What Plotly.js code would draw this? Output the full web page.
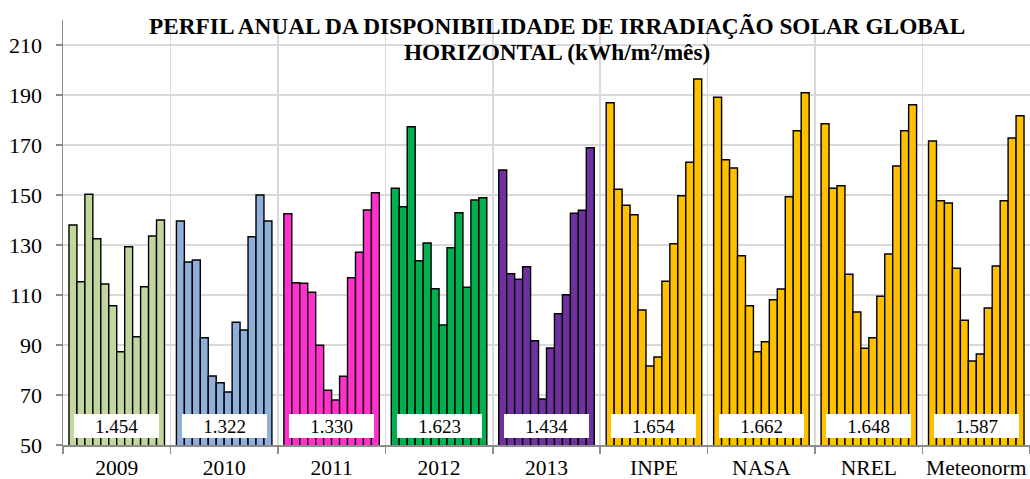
<!DOCTYPE html>
<html>
<head>
<meta charset="utf-8">
<script src="https://cdn.plot.ly/plotly-3.0.1.min.js"></script>
<style>html,body{margin:0;padding:0;background:#fff;}#chart{width:1030px;height:479px;}</style>
</head>
<body>
<div id="chart"></div>
<script>
// Group names (x tick labels)
const groups = ['2009', '2010', '2011', '2012', '2013', 'INPE', 'NASA', 'NREL', 'Meteonorm'];
// Annual totals shown in the boxes (MWh/m²/ano, Brazilian notation)
const totals = ['1.454', '1.322', '1.330', '1.623', '1.434', '1.654', '1.662', '1.648', '1.587'];
// Monthly values, Jan..Dec (kWh/m²/mês)
const v2009 = [138.0, 115.3, 150.3, 132.5, 114.4, 105.7, 87.3, 129.3, 93.3, 113.3, 133.6, 140.0];
const v2010 = [139.6, 123.2, 124.0, 92.9, 77.6, 74.9, 71.2, 99.1, 96.0, 133.3, 150.0, 139.6];
const v2011 = [142.5, 114.9, 114.7, 111.1, 89.9, 71.9, 68.0, 77.5, 116.9, 127.1, 144.0, 150.9];
const v2012 = [152.7, 145.3, 177.3, 123.7, 130.8, 112.5, 98.0, 128.9, 142.9, 113.1, 148.0, 148.9];
const v2013 = [160.0, 118.5, 116.3, 121.3, 91.7, 68.4, 88.8, 102.5, 110.1, 142.7, 143.9, 168.9];
const vINPE = [186.9, 152.3, 145.9, 142.1, 104.0, 81.6, 85.2, 115.5, 130.5, 149.7, 163.1, 196.4];
const vNASA = [189.1, 164.1, 160.8, 125.7, 105.7, 87.3, 91.3, 108.1, 112.4, 149.3, 175.7, 190.9];
const vNREL = [178.5, 152.7, 153.7, 118.3, 103.2, 88.7, 92.9, 109.5, 126.4, 161.6, 175.7, 186.1];
const vMeteonorm = [171.6, 147.7, 146.8, 120.7, 99.9, 83.6, 86.4, 104.8, 121.6, 147.7, 172.8, 181.7];
const yTicks = [50, 70, 90, 110, 130, 150, 170, 190, 210];
const titleLines = ['PERFIL ANUAL DA DISPONIBILIDADE DE IRRADIAÇÃO SOLAR GLOBAL', 'HORIZONTAL (kWh/m²/mês)'];

const series = [v2009, v2010, v2011, v2012, v2013, vINPE, vNASA, vNREL, vMeteonorm];
const colors = ['#c3d69b', '#8eb0db', '#ff33cc', '#00b050', '#7030a0', '#ffc000', '#ffc000', '#ffc000', '#ffc000'];

const GW = 13.5;      // group width in bar units
const PAD = 0.75;     // padding on each side of group
const serif = 'Liberation Serif, Times New Roman, serif';

const traces = series.map((vals, g) => ({
  type: 'bar',
  x: vals.map((_, j) => g * GW + PAD + j + 0.5),
  y: vals,
  width: 1,
  marker: {color: colors[g], line: {color: '#000', width: 1.4}},
  hoverinfo: 'y',
  showlegend: false
}));

const centers = groups.map((_, g) => g * GW + GW / 2);
const bounds = groups.map((_, g) => g * GW).concat([groups.length * GW]);

const annotations = totals.map((t, g) => ({
  x: centers[g], y: 57.6, xref: 'x', yref: 'y',
  text: t, showarrow: false,
  bgcolor: '#ffffff', borderwidth: 0, borderpad: 0,
  width: 85, height: 24,
  font: {family: serif, size: 19, color: '#000'},
  xanchor: 'center', yanchor: 'middle'
}));
const titleY = [(445 - 26) / 425, (445 - 52.5) / 425];
titleLines.forEach((t, i) => annotations.push({
  x: (557 - 63) / 967, y: titleY[i], xref: 'paper', yref: 'paper',
  text: '<b>' + t + '</b>', showarrow: false,
  font: {family: serif, size: 23.3, color: '#000'},
  xanchor: 'center', yanchor: 'middle'
}));

const layout = {
  width: 1030, height: 479,
  margin: {l: 63, r: 0, t: 20, b: 34},
  paper_bgcolor: '#fff', plot_bgcolor: '#fff',
  bargap: 0,
  xaxis: {
    range: [0, groups.length * GW],
    tickmode: 'array', tickvals: centers, ticktext: groups,
    ticks: '', showgrid: false, zeroline: false,
    showline: true, linecolor: '#8c8c8c', linewidth: 1.5,
    tickfont: {family: serif, size: 21.5, color: '#000'},
    ticklabelstandoff: 3,
    minor: {
      tickmode: 'array', tickvals: bounds,
      ticks: 'outside', ticklen: 7, tickcolor: '#8c8c8c', tickwidth: 1.5,
      showgrid: true, gridcolor: '#d9d9d9', gridwidth: 1.5
    },
    fixedrange: true
  },
  yaxis: {
    range: [50, 220],
    tickmode: 'array', tickvals: yTicks,
    ticks: 'outside', ticklen: 6, tickcolor: '#8c8c8c', tickwidth: 1.5,
    showgrid: true, gridcolor: '#d9d9d9', gridwidth: 1.5,
    zeroline: false,
    showline: true, linecolor: '#8c8c8c', linewidth: 1.5,
    tickfont: {family: serif, size: 22, color: '#000'},
    ticklabelstandoff: 9,
    fixedrange: true
  },
  shapes: [{
    type: 'rect', layer: 'between',
    xref: 'paper', yref: 'paper',
    x0: (138 - 63) / 967, x1: (975 - 63) / 967,
    y0: (445 - 68) / 425, y1: 1.02,
    fillcolor: '#ffffff', line: {width: 0}
  }],
  annotations: annotations
};

Plotly.newPlot('chart', traces, layout, {displayModeBar: false, staticPlot: true});
</script>
</body>
</html>
